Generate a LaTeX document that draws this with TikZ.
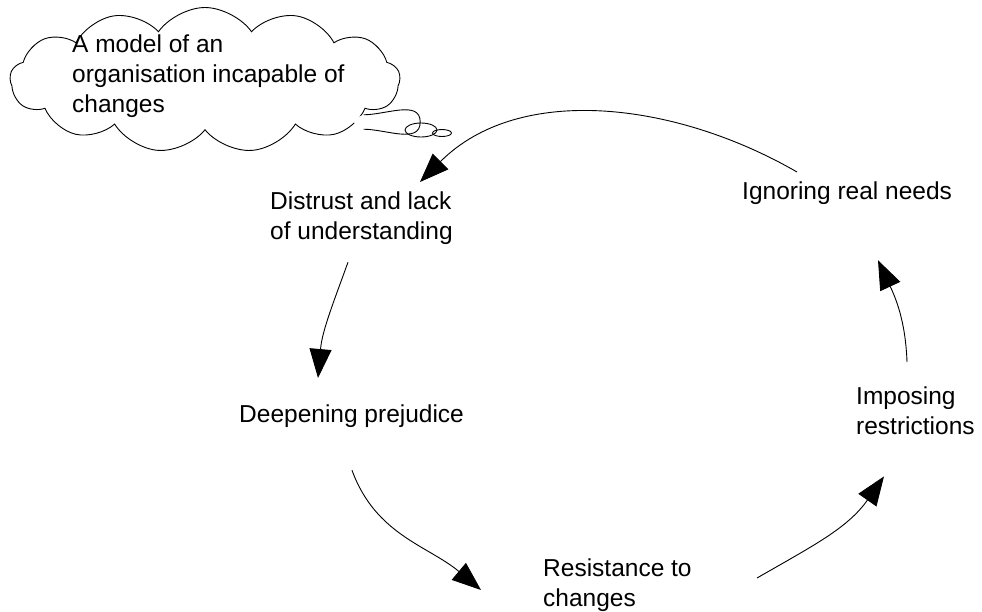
\documentclass[tikz,border=0pt]{standalone}
\usepackage{fontspec}
\setmainfont{Liberation Sans}
\usetikzlibrary{shapes.symbols, shapes.geometric, arrows.meta, positioning}

\tikzset{
  label text/.style={anchor=north west, inner sep=0pt, align=left, font=\fontsize{24.5}{30}\selectfont},
  loop arrow/.style={-{Triangle[length=29pt,width=22pt]}, line width=0.9pt},
  bubble/.style={ellipse, draw, line width=0.9pt, inner sep=0pt}
}

\begin{document}
\begin{tikzpicture}[x=1pt, y=1pt]
\useasboundingbox (0,0) rectangle (982,-611);
\node [cloud, draw, line width=0.9pt, cloud puffs=13, cloud puff arc=110, minimum width=390pt, minimum height=145pt] (thought) at (205,-80) {};
\node [ellipse, fill=white, minimum width=66pt, minimum height=20pt, inner sep=0pt] (tail) at (387,-122) {};
\draw [line width=0.9pt] (tail.north west) to[out=0, in=90] (tail.east) to[out=-90, in=0] (tail.south west);
\node [bubble, minimum width=32pt, minimum height=14pt] (bubbleA) at (421,-130) {};
\node [bubble, minimum width=19pt, minimum height=7pt] (bubbleB) at (442,-133) {};

\node [label text] (model) at (72,-35) {A model of an\\organisation incapable of\\changes};
\node [label text] (distrust) at (270,-192) {Distrust and lack\\of understanding};
\node [label text] (deepening) at (239,-405) {Deepening prejudice};
\node [label text] (resistance) at (543,-559) {Resistance to\\changes};
\node [label text] (imposing) at (856,-387) {Imposing\\restrictions};
\node [label text] (ignoring) at (742,-182) {Ignoring real needs};

\draw [loop arrow] ([xshift=55pt, yshift=10pt]ignoring.north west) to[out=150, in=45, looseness=0.95] ([xshift=150pt, yshift=10pt]distrust.north west);
\draw [loop arrow] ([xshift=78pt, yshift=-17pt]distrust.south west) to[out=250, in=85] ([xshift=79pt, yshift=27pt]deepening.north west);
\draw [loop arrow] ([xshift=113pt, yshift=-42pt]deepening.south west) to[out=290, in=140] ([xshift=-62pt, yshift=-31pt]resistance.north west);
\draw [loop arrow] ([xshift=214pt, yshift=-19pt]resistance.north west) to[out=30, in=235] ([xshift=28pt, yshift=-41pt]imposing.south west);
\draw [loop arrow] ([xshift=51pt, yshift=25pt]imposing.north west) to[out=92, in=295] ([xshift=136pt, yshift=-55pt]ignoring.south west);
\end{tikzpicture}
\end{document}
